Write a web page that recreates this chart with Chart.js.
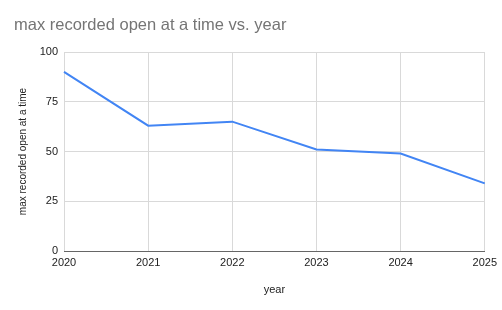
<!DOCTYPE html>
<html>
<head>
<meta charset="utf-8">
<script src="https://cdn.jsdelivr.net/npm/chart.js@4"></script>
<style>
  html, body { margin: 0; padding: 0; background: #fff; }
  #wrap { width: 502px; height: 310px; position: relative; }
</style>
</head>
<body>
<div id="wrap"><canvas id="chart" width="502" height="310"></canvas></div>
<script>
const years = ['2020', '2021', '2022', '2023', '2024', '2025'];
const maxOpen = [90, 63, 65, 51, 49, 34];
const yTicks = [0, 25, 50, 75, 100];

const chartTitle = 'max recorded open at a time vs. year';
const FONT = 'Arial, "Liberation Sans", sans-serif';

// title drawn top-left like the original sheet chart
const titlePlugin = {
    id: 'sheetTitle',
    afterDraw: (chart) => {
        const ctx = chart.ctx;
        ctx.save();
        ctx.font = '16.5px ' + FONT;
        ctx.fillStyle = '#757575';
        ctx.textBaseline = 'middle';
        ctx.textAlign = 'left';
        ctx.fillText(chartTitle, 14, 25);
        ctx.restore();
    }
};

new Chart(document.getElementById('chart'), {
    type: 'line',
    data: {
        labels: years,
        datasets: [{
            label: 'max recorded open at a time',
            data: maxOpen,
            borderColor: '#4285f4',
            backgroundColor: '#4285f4',
            borderWidth: 2,
            pointRadius: 0,
            tension: 0
        }]
    },
    options: {
        responsive: false,
        animation: false,
        layout: { padding: { top: 52, right: 16, left: 0, bottom: 0 } },
        plugins: { legend: { display: false }, tooltip: { enabled: false } },
        scales: {
            x: {
                offset: false,
                grid: { color: '#d9d9d9', drawTicks: false },
                border: { color: '#666', width: 1 },
                ticks: { color: '#222', font: { family: FONT, size: 11 }, padding: 5, maxRotation: 0 },
                title: { display: true, text: 'year', color: '#222', font: { family: FONT, size: 11 }, padding: { top: 0, bottom: 13 } },
                afterFit: (s) => { s.height = 59; }
            },
            y: {
                min: 0,
                max: 100,
                afterBuildTicks: (s) => { s.ticks = yTicks.map(v => ({ value: v })); },
                grid: { color: '#d9d9d9', drawTicks: false },
                border: { display: false },
                ticks: { color: '#222', font: { family: FONT, size: 11 }, padding: 6 },
                title: { display: true, text: 'max recorded open at a time', color: '#222', font: { family: FONT, size: 10 }, padding: { top: 17, bottom: 0 } },
                afterFit: (s) => { s.width = 64; }
            }
        }
    },
    plugins: [titlePlugin]
});
</script>
</body>
</html>
